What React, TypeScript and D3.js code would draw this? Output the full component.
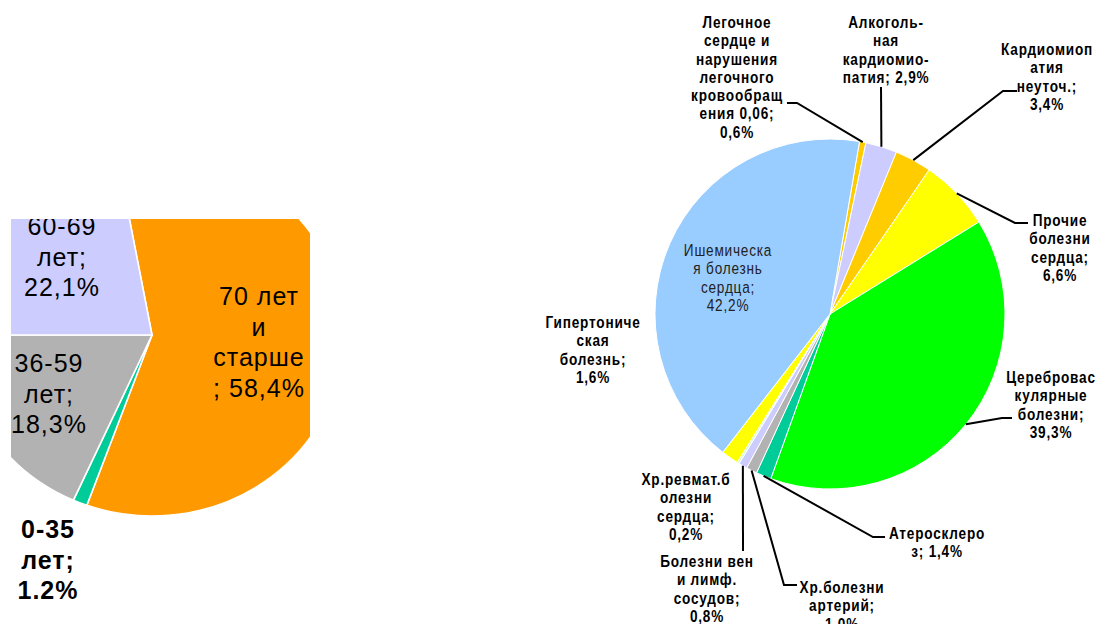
import React from "react";
import * as d3 from "d3";

// ---------- DATA ----------
const ageCategories = ["70 лет и старше", "0-35 лет", "36-59 лет", "60-69 лет"];
const ageShares = [58.4, 1.2, 18.3, 22.1];
const ageLabelLines = [
  ["70 лет", "и", "старше", "; 58,4%"],
  ["0-35", "лет;", "1.2%"],
  ["36-59", "лет;", "18,3%"],
  ["60-69", "лет;", "22,1%"],
];

const causeCategories = [
  "Легочное сердце и нарушения легочного кровообращения",
  "Алкогольная кардиомиопатия",
  "Кардиомиопатия неуточ.",
  "Прочие болезни сердца",
  "Цереброваскулярные болезни",
  "Атеросклероз",
  "Хр.болезни артерий",
  "Болезни вен и лимф. сосудов",
  "Хр.ревмат.болезни сердца",
  "Гипертоническая болезнь",
  "Ишемическая болезнь сердца",
];
const causeShares = [0.6, 2.9, 3.4, 6.6, 39.3, 1.4, 1.0, 0.8, 0.2, 1.6, 42.2];
const causeLabelLines = [
  ["Легочное", "сердце и", "нарушения", "легочного", "кровообращ", "ения 0,06;", "0,6%"],
  ["Алкоголь-", "ная", "кардиомио-", "патия; 2,9%"],
  ["Кардиомиоп", "атия", "неуточ.;", "3,4%"],
  ["Прочие", "болезни", "сердца;", "6,6%"],
  ["Церебровас", "кулярные", "болезни;", "39,3%"],
  ["Атеросклеро", "з; 1,4%"],
  ["Хр.болезни", "артерий;", "1,0%"],
  ["Болезни вен", "и лимф.", "сосудов;", "0,8%"],
  ["Хр.ревмат.б", "олезни", "сердца;", "0,2%"],
  ["Гипертониче", "ская", "болезнь;", "1,6%"],
  ["Ишемическа", "я болезнь", "сердца;", "42,2%"],
];

// ---------- STYLE / LAYOUT ----------
const ageColors = ["#FF9900", "#00CC99", "#B2B2B2", "#CCCCFF"];
const causeColors = [
  "#FFCC00", "#CCCCFF", "#FFCC00", "#FFFF00", "#00FF00",
  "#00CC99", "#B2B2B2", "#CCCCFF", "#CCFFCC", "#FFFF00", "#99CCFF",
];

const W = 1100;
const H = 624;
const DEG = Math.PI / 180;

const L = { cx: 152, cy: 335, r: 181, sx: 192 / 181, start: -10.4 };
const R = { cx: 830, cy: 314, r: 175, start: 9.7 };

const ageLabelPos = [
  { x: 259, y: 305, bold: false },
  { x: 48, y: 538, bold: true },
  { x: 49, y: 372, bold: false },
  { x: 62, y: 235, bold: false },
];

const causeLabelPos = [
  { x: 737, y: 28 },
  { x: 886, y: 28 },
  { x: 1047, y: 55 },
  { x: 1060, y: 226 },
  { x: 1051, y: 383 },
  { x: 937, y: 539 },
  { x: 842, y: 593 },
  { x: 707, y: 567 },
  { x: 686, y: 485 },
  { x: 593, y: 328 },
  { x: 728, y: 256 },
];

// leader lines: elbow / end points (null = no leader)
const causeLeaders: (null | { elbow?: [number, number]; end: [number, number] })[] = [
  { elbow: [797, 103], end: [787, 103] },
  { end: [881, 87] },
  { elbow: [1003, 91], end: [1017, 91] },
  { elbow: [1015, 223], end: [1028, 223] },
  { elbow: [1002, 418], end: [1012, 418] },
  { elbow: [873, 537], end: [885, 537] },
  { elbow: [784, 585], end: [797, 585] },
  { end: [743, 551] },
  null,
  null,
  null,
];

const FONT = "Arial, 'Liberation Sans', sans-serif";

function MultiText({ x, y, lines, size, spacing, weight, fill, sx, ls }: any) {
  return (
    <text
      transform={`translate(${x},${y}) scale(${sx},1)`}
      textAnchor="middle"
      fontFamily={FONT}
      fontSize={size}
      fontWeight={weight}
      fill={fill}
      letterSpacing={ls}
    >
      {lines.map((ln: string, i: number) => (
        <tspan key={i} x={0} y={i * spacing}>
          {ln}
        </tspan>
      ))}
    </text>
  );
}

export default function App() {
  const leftPie = d3
    .pie<number>()
    .sort(null)
    .value((d) => d)
    .startAngle(L.start * DEG)
    .endAngle(L.start * DEG + 2 * Math.PI)(ageShares);
  const leftArc = d3.arc<d3.PieArcDatum<number>>().innerRadius(0).outerRadius(L.r);

  const rightPie = d3
    .pie<number>()
    .sort(null)
    .value((d) => d)
    .startAngle(R.start * DEG)
    .endAngle(R.start * DEG + 2 * Math.PI)(causeShares);
  const rightArc = d3.arc<d3.PieArcDatum<number>>().innerRadius(0).outerRadius(R.r);

  const line = d3.line();

  return (
    <svg
      width={W}
      height={H}
      style={{ position: "absolute", left: 0, top: 0, background: "#fff" }}
    >
      <defs>
        <clipPath id="leftClip">
          <rect x={11} y={219} width={299} height={H - 219} />
        </clipPath>
      </defs>
      <rect x={0} y={0} width={W} height={H} fill="#fff" />

      {/* Left pie: age groups */}
      <g clipPath="url(#leftClip)">
        <g transform={`translate(${L.cx},${L.cy}) scale(${L.sx},1)`}>
          {leftPie.map((d, i) => (
            <path
              key={ageCategories[i]}
              d={leftArc(d) || ""}
              fill={ageColors[i]}
              stroke="#fff"
              strokeWidth={1.5}
            />
          ))}
        </g>
        {ageLabelLines.map((lines, i) => (
          <MultiText
            key={i}
            x={ageLabelPos[i].x}
            y={ageLabelPos[i].y}
            lines={lines}
            size={25}
            spacing={30.5}
            weight={ageLabelPos[i].bold ? "bold" : "normal"}
            fill="#000"
            sx={1}
            ls={1}
          />
        ))}
      </g>

      {/* Right pie: causes */}
      <g transform={`translate(${R.cx},${R.cy})`}>
        {rightPie.map((d, i) => (
          <path
            key={causeCategories[i]}
            d={rightArc(d) || ""}
            fill={causeColors[i]}
            stroke="#fff"
            strokeWidth={1}
          />
        ))}
      </g>

      {rightPie.map((d, i) => {
        const ld = causeLeaders[i];
        if (!ld) return null;
        const a = (d.startAngle + d.endAngle) / 2;
        const s: [number, number] = [R.cx + R.r * Math.sin(a), R.cy - R.r * Math.cos(a)];
        const pts: [number, number][] = ld.elbow ? [s, ld.elbow, ld.end] : [s, ld.end];
        return (
          <path key={"ld" + i} d={line(pts) || ""} fill="none" stroke="#000" strokeWidth={2} />
        );
      })}

      {causeLabelLines.map((lines, i) => (
        <MultiText
          key={"cl" + i}
          x={causeLabelPos[i].x}
          y={causeLabelPos[i].y}
          lines={lines}
          size={17}
          spacing={18.3}
          weight={i === 10 ? "normal" : "bold"}
          fill={i === 10 ? "#222" : "#000"}
          sx={0.8}
          ls={1}
        />
      ))}
    </svg>
  );
}
